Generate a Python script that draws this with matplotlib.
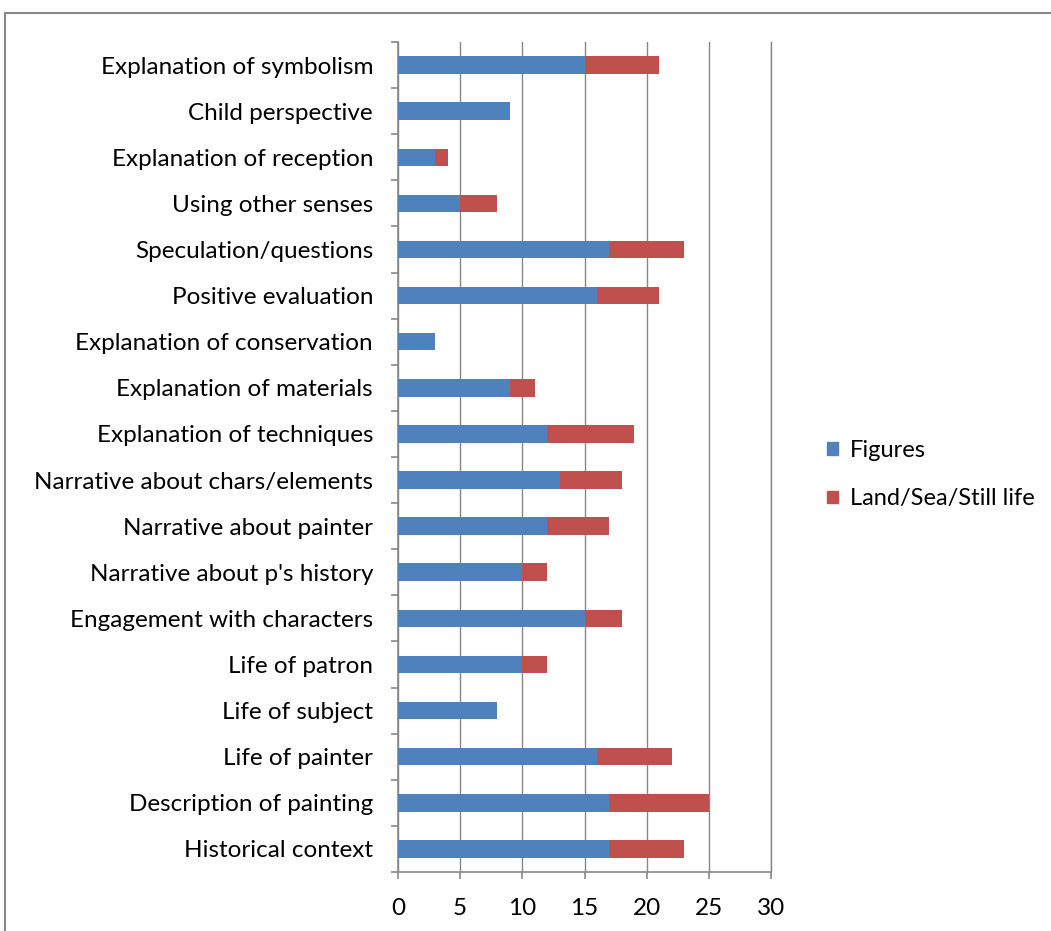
import matplotlib.pyplot as plt
import matplotlib.patches as mpatches
from matplotlib.patches import Rectangle

# categories top to bottom
categories = [
    "Explanation of symbolism", "Child perspective", "Explanation of reception",
    "Using other senses", "Speculation/questions", "Positive evaluation",
    "Explanation of conservation", "Explanation of materials",
    "Explanation of techniques", "Narrative about chars/elements",
    "Narrative about painter", "Narrative about p's history",
    "Engagement with characters", "Life of patron", "Life of subject",
    "Life of painter", "Description of painting", "Historical context",
]
figures = [15, 9, 3, 5, 17, 16, 3, 9, 12, 13, 12, 10, 15, 10, 8, 16, 17, 17]
land_sea = [6, 0, 1, 3, 6, 5, 0, 2, 7, 5, 5, 2, 3, 2, 0, 6, 8, 6]
xticks = [0, 5, 10, 15, 20, 25, 30]

plt.rcParams['font.family'] = ['Lato', 'DejaVu Sans']

fig = plt.figure(figsize=(10.51, 9.31), dpi=100)
ax = fig.add_axes([0.3787, 0.0634, 0.3549, 0.8915])

blue = '#4F81BD'
red = '#C0504D'
y = list(range(len(categories)))
ax.barh(y, figures, height=0.38, color=blue, zorder=3)
ax.barh(y, land_sea, left=figures, height=0.38, color=red, zorder=3)

ax.set_ylim(len(categories) - 0.5, -0.5)
ax.set_xlim(0, 30)
ax.set_yticks(y)
ax.set_yticklabels(categories, fontsize=17.5)
ax.set_yticks([i - 0.5 for i in range(len(categories) + 1)], minor=True)
ax.tick_params(axis='y', which='major', length=0, pad=18)
ax.tick_params(axis='y', which='minor', length=5, color='#888888', width=1.2)
ax.set_xticks(xticks)
ax.set_xticklabels([str(t) for t in xticks], fontsize=17.5)
ax.tick_params(axis='x', length=5, color='#888888', width=1.2, pad=14)

ax.grid(axis='x', color='#868686', linewidth=1, zorder=0)
ax.spines['top'].set_visible(False)
ax.spines['right'].set_color('#868686')
ax.spines['right'].set_linewidth(1)
for s in ['left', 'bottom']:
    ax.spines[s].set_color('#888888')
    ax.spines[s].set_linewidth(1.2)

handles = [mpatches.Patch(color=blue, label='Figures'),
           mpatches.Patch(color=red, label='Land/Sea/Still life')]
fig.legend(handles=handles, loc='center left', bbox_to_anchor=(0.767, 0.49),
           frameon=False, fontsize=17, handlelength=0.45, handleheight=0.45,
           handletextpad=0.5, labelspacing=1.15)

# outer chart border
fig.patches.append(Rectangle((5 / 1051, -0.1), 1.2, 1 - 13 / 931 + 0.1,
                             transform=fig.transFigure, fill=False,
                             edgecolor='#888888', linewidth=1.5))

plt.savefig("out.png", dpi=100)
